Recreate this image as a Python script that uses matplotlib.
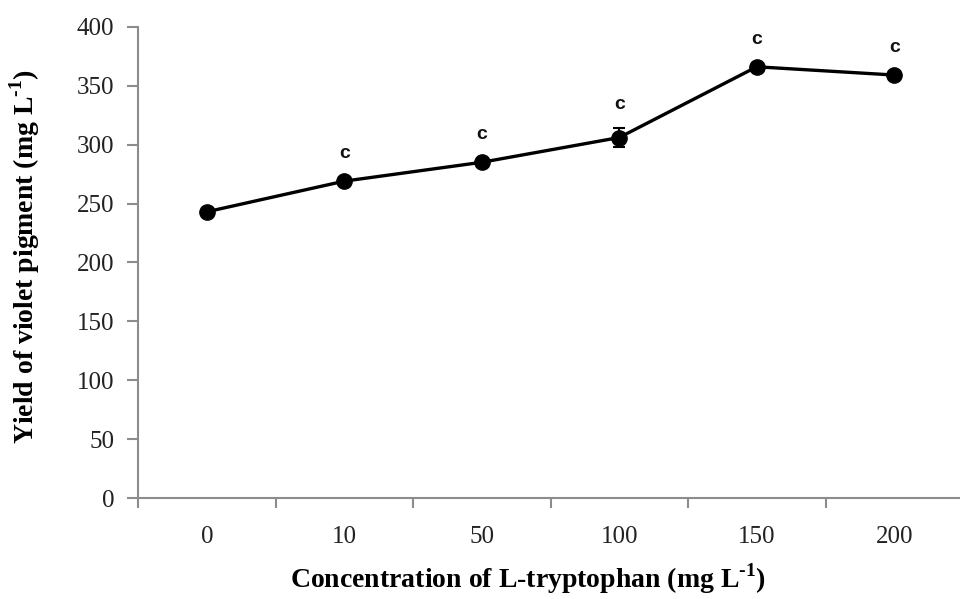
import matplotlib
matplotlib.use("Agg")
import matplotlib.pyplot as plt

# data
conc = ["0", "10", "50", "100", "150", "200"]
yield_vals = [243, 269, 285, 306, 366, 359]
yield_err = [3, 3, 3, 8, 3, 3]
letters = ["", "c", "c", "c", "c", "c"]

plt.rcParams["font.family"] = ["Liberation Serif", "DejaVu Serif"]
plt.rcParams["mathtext.fontset"] = "custom"
plt.rcParams["mathtext.rm"] = "Liberation Serif"
plt.rcParams["mathtext.bf"] = "Liberation Serif:bold"

fig = plt.figure(figsize=(9.6, 5.99), dpi=100)
ax = fig.add_axes([138/960, 1 - 498.3/599, 825/960, 471.6/599])

x = list(range(len(conc)))
ax.errorbar(x, yield_vals, yerr=yield_err, color="black", lw=2.4,
            marker="o", ms=11, capsize=4, elinewidth=1.5, capthick=1.5)

for xi, v, e, t in zip(x, yield_vals, yield_err, letters):
    if t:
        ax.annotate(t, (xi, v + e), xytext=(0, 11), textcoords="offset points",
                    ha="center", va="bottom", fontsize=14, fontweight="bold",
                    family=["Liberation Sans"], color="#111")

ax.set_xlim(-0.5, 5.5)
ax.set_ylim(0, 400)
ax.set_yticks(range(0, 401, 50))
ax.set_xticks([i - 0.5 for i in range(len(conc) + 1)])
ax.set_xticklabels([])
ax.set_xticks(x, minor=True)
ax.set_xticklabels(conc, minor=True)

for s in ["top", "right"]:
    ax.spines[s].set_visible(False)
for s in ["left", "bottom"]:
    ax.spines[s].set_color("#8c8c8c")
    ax.spines[s].set_linewidth(1.5)

ax.tick_params(axis="y", which="major", direction="out", length=8, width=1.5,
               color="#8c8c8c", labelsize=18, pad=9, labelcolor="#222")
ax.tick_params(axis="x", which="major", direction="out", length=7, width=1.5,
               color="#8c8c8c")
ax.tick_params(axis="x", which="minor", length=0, labelsize=18, pad=20,
               labelcolor="#222")

unit = "(mg L$^{\\mathbf{\u2010 1}}$)"
fig.text(528/960, 1 - 579/599, "Concentration of L-tryptophan " + unit,
         ha="center", va="center", fontsize=20, fontweight="bold")
fig.text(25/960, 1 - 257/599, "Yield of violet pigment " + unit,
         ha="center", va="center", rotation=90, fontsize=20, fontweight="bold")

fig.savefig("out.png", dpi=100, facecolor="white")
